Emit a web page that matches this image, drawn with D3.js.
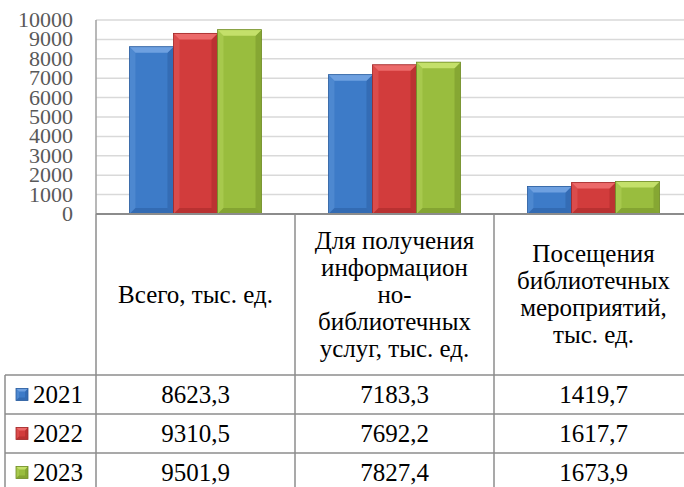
<!DOCTYPE html>
<html>
<head>
<meta charset="utf-8">
<script src="https://cdn.jsdelivr.net/npm/d3@7"></script>
</head>
<body style="margin:0">
<!-- static use of the serif face so it is loaded before the chart is drawn -->
<div style="position:absolute;left:0;top:0;font-family:'Liberation Serif';font-size:25px;color:transparent">&nbsp;</div>
<svg id="chart" width="684" height="487"></svg>
<script>
// chart data
const categories = ['total', 'services', 'events'];
const categoryLines = [
  ['Всего, тыс. ед.'],
  ['Для получения', 'информацион', 'но-', 'библиотечных', 'услуг, тыс. ед.'],
  ['Посещения', 'библиотечных', 'мероприятий,', 'тыс. ед.'],
];
const years = ['2021', '2022', '2023'];
const values2021 = [8623.3, 7183.3, 1419.7];
const values2022 = [9310.5, 7692.2, 1617.7];
const values2023 = [9501.9, 7827.4, 1673.9];
const yTicks = [0, 1000, 2000, 3000, 4000, 5000, 6000, 7000, 8000, 9000, 10000];

const seriesValues = [values2021, values2022, values2023];
const colors = [
  { base: '#3d7bc8', light: '#6ea0e0', dark: '#2a5c9e' },
  { base: '#d23c3c', light: '#ec6a6a', dark: '#a02626' },
  { base: '#99bd3e', light: '#c4e06a', dark: '#6f8c26' },
];
const font = size => `font-family:'Liberation Serif';font-size:${size}px`;

const svg = d3.select('#chart');
const plot = { left: 96, right: 693, top: 20, bottom: 214 };
const table = { top: 214, header: 375, row: 39, left: 5, right: 684 };

const x = d3.scaleBand().domain(categories).range([plot.left, plot.right]);
const xs = d3.scaleBand().domain(years).range([0, x.bandwidth()]).paddingOuter(0.76);
const y = d3.scaleLinear().domain([0, 10000]).range([plot.bottom, plot.top]);

const ru = d3.formatLocale({ decimal: ',', thousands: '', grouping: [3], currency: ['', ''] });
const fmt = ru.format('.1f');

// gridlines
svg.append('g')
  .selectAll('line')
  .data(yTicks.filter(d => d > 0))
  .join('line')
  .attr('x1', plot.left)
  .attr('x2', 684)
  .attr('y1', d => y(d))
  .attr('y2', d => y(d))
  .attr('stroke', '#d9d9d9')
  .attr('stroke-width', 1.5);

// y axis labels
yTicks.forEach(t => {
  svg.append('text')
    .attr('x', 73)
    .attr('y', y(t) + 7)
    .attr('text-anchor', 'end')
    .attr('fill', '#595959')
    .attr('style', font(22))
    .text(t);
});

svg.append('line')
  .attr('x1', plot.left).attr('x2', plot.left)
  .attr('y1', plot.top).attr('y2', plot.bottom)
  .attr('stroke', '#a0a0a0')
  .attr('stroke-width', 1.5);

// bevelled bar
function drawBar(g, bx, by, bw, bh, c, b) {
  const bb = Math.min(b, bh / 2, bw / 2);
  g.append('rect').attr('x', bx).attr('y', by).attr('width', bw).attr('height', bh).attr('fill', c.base);
  // left
  g.append('polygon')
    .attr('points', [[bx, by], [bx + bb, by + bb], [bx + bb, by + bh - bb], [bx, by + bh]].join(' '))
    .attr('fill', c.light).attr('opacity', 0.35);
  // right
  g.append('polygon')
    .attr('points', [[bx + bw, by], [bx + bw - bb, by + bb], [bx + bw - bb, by + bh - bb], [bx + bw, by + bh]].join(' '))
    .attr('fill', c.dark).attr('opacity', 0.45);
  // bottom
  g.append('polygon')
    .attr('points', [[bx, by + bh], [bx + bb, by + bh - bb], [bx + bw - bb, by + bh - bb], [bx + bw, by + bh]].join(' '))
    .attr('fill', c.dark).attr('opacity', 0.5);
  // top
  g.append('polygon')
    .attr('points', [[bx, by], [bx + bw, by], [bx + bw - bb, by + bb], [bx + bb, by + bb]].join(' '))
    .attr('fill', c.light);
  g.append('rect').attr('x', bx).attr('y', by).attr('width', bw).attr('height', bh)
    .attr('fill', 'none').attr('stroke', c.dark).attr('stroke-width', 0.8);
}

const bars = svg.append('g');
seriesValues.forEach((vals, si) => {
  vals.forEach((v, ci) => {
    const bx = x(categories[ci]) + xs(years[si]);
    drawBar(bars, bx, y(v), xs.bandwidth(), plot.bottom - y(v), colors[si], 6);
  });
});

// data table
const grid = svg.append('g').attr('stroke', '#8c8c8c').attr('stroke-width', 1.5);
grid.append('line')
  .attr('x1', plot.left).attr('x2', 684)
  .attr('y1', table.top).attr('y2', table.top)
  .attr('stroke-width', 2);
categories.forEach(c => {
  grid.append('line')
    .attr('x1', x(c)).attr('x2', x(c))
    .attr('y1', table.top).attr('y2', 487);
});
grid.append('line')
  .attr('x1', table.left).attr('x2', table.left)
  .attr('y1', table.header).attr('y2', 487);
years.forEach((yr, i) => {
  const ly = table.header + i * table.row;
  grid.append('line')
    .attr('x1', table.left).attr('x2', 684)
    .attr('y1', ly).attr('y2', ly);
});

// header labels
const headerMid = (table.top + table.header) / 2;
const lineH = 27;
categories.forEach((c, ci) => {
  const lines = categoryLines[ci];
  const cx = x(c) + x.bandwidth() / 2;
  lines.forEach((line, i) => {
    svg.append('text')
      .attr('x', cx)
      .attr('y', headerMid + (i - (lines.length - 1) / 2) * lineH + 8)
      .attr('text-anchor', 'middle')
      .attr('style', font(25))
      .text(line);
  });
});

// rows
years.forEach((yr, si) => {
  const rowMid = table.header + si * table.row + table.row / 2;
  drawBar(svg.append('g'), 16, rowMid - 6, 12, 12, colors[si], 3);
  svg.append('text')
    .attr('x', 33)
    .attr('y', rowMid + 8)
    .attr('style', font(25))
    .text(yr);
  seriesValues[si].forEach((v, ci) => {
    svg.append('text')
      .attr('x', x(categories[ci]) + x.bandwidth() / 2)
      .attr('y', rowMid + 8)
      .attr('text-anchor', 'middle')
      .attr('style', font(25))
      .text(fmt(v));
  });
});
</script>
</body>
</html>
